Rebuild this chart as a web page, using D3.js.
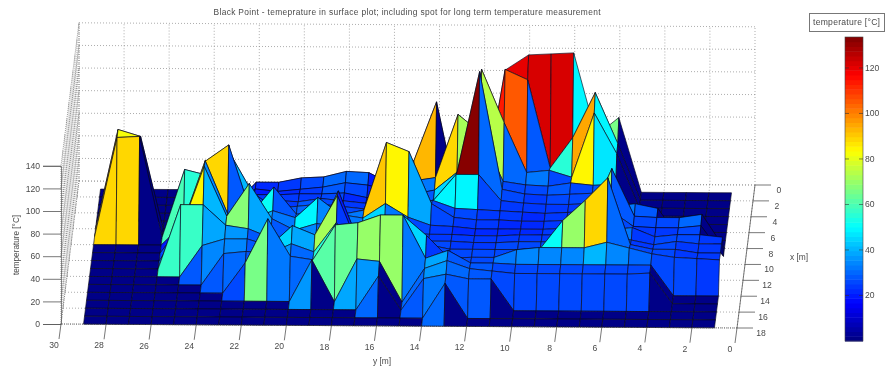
<!DOCTYPE html>
<html><head><meta charset="utf-8">
<style>html,body{margin:0;padding:0;background:#fff}svg{display:block;filter:blur(.35px)}text{font-family:"Liberation Sans",Arial,sans-serif;fill:#4a4a4a}</style>
<script src="https://cdn.jsdelivr.net/npm/d3@7/dist/d3.min.js"></script>
</head><body><svg id="c" width="885" height="370"></svg>
<script>
const xValues=d3.range(1,19);
const yValues=d3.range(1,30);
const xTicks=d3.range(0,19,2);
const yTicks=d3.range(0,31,2);
const zTicks=d3.range(0,141,20);
const barTicks=[20,40,60,80,100,120];
const titleText="Black Point - temeprature in surface plot; including spot for long term temperature measurement";
// temperature per y column (y=1..29); each list runs x=1..18
const tempByY=[
[0,0,0,0,0,0,0,0,0,24,25,24,25,0,0,0,0,0],
[0,0,0,0,0,0,0,30,27,26,25,24,26,0,0,0,0,0],
[0,0,0,0,0,0,0,27,25,26,27,27,27,0,0,0,0,0],
[0,0,0,0,0,0,28,27,25,24,24,27,30,27,27,0,0,0],
[0,0,0,0,0,0,32,28,26,32,28,31,35,27,26,0,0,0],
[66,50,48,28,26,26,30,70,40,30,32,90,40,27,26,0,0,0],
[50,95,84,27,27,25,25,25,26,27,28,70,35,27,26,0,0,0],
[123,55,27,29,26,24,24,24,24,25,26,52,35,27,26,0,0,0],
[122,28,33,26,25,24,23,23,23,25,26,27,35,27,26,0,0,0],
[121,106,31,27,26,25,24,23,23,25,26,26,33,27,26,0,0,0],
[108,115,75,30,30,27,25,24,23,24,25,26,26,28,28,28,0,0],
[0,0,122,73,134,50,26,24,23,24,25,26,26,28,30,28,0,0],
[0,0,0,89,45,50,27,26,25,25,26,26,25,39,37,32,31,0],
[0,0,93,33,29,27,34,38,26,25,26,30,45,32,30,28,0,0],
[0,0,41,30,25,22,30,84,33,26,27,28,62,70,0,0,0,0],
[0,0,20,20,20,20,30,92,45,25,28,30,40,70,36,30,0,0],
[0,0,30,26,22,24,26,32,32,22,20,25,28,63,38,0,0,0],
[0,0,31,28,26,26,28,28,35,30,70,73,56,61,0,0,0,0],
[0,0,26,24,25,28,30,30,50,34,28,38,30,30,37,0,0,0],
[0,0,25,22,25,25,28,28,32,28,28,46,37,33,0,0,0,0],
[0,0,21,20,24,26,26,52,38,38,28,28,28,66,0,0,0,0],
[0,0,21,22,24,25,40,28,30,69,36,34,30,27,0,0,0,0],
[0,0,0,0,0,0,75,89,35,40,39,34,28,0,0,0,0,0],
[0,0,0,0,0,0,55,75,82,84,57,28,0,0,0,0,0,0],
[0,0,0,0,0,0,60,19,26,30,57,0,0,0,0,0,0,0],
[0,0,0,0,0,0,0,0,0,0,0,0,0,0,0,0,0,0],
[0,0,0,0,0,82,89,0,0,0,0,0,0,0,0,0,0,0],
[0,0,0,0,0,88,88,0,0,0,0,0,0,0,0,0,0,0],
[0,0,0,0,0,0,0,0,0,0,0,0,0,0,0,0,0,0]
];
const cMin=0,cMax=134;
function jet(v){const c=t=>Math.max(0,Math.min(1,t));
 const r=c(Math.min(4*v-1.5,-4*v+4.5)),g=c(Math.min(4*v-0.5,-4*v+3.5)),b=c(Math.min(4*v+0.5,-4*v+2.5));
 return d3.rgb(r*255,g*255,b*255).formatHex();}
const colorOf=d3.scaleQuantize().domain([cMin,cMax]).range(d3.range(64).map(i=>jet((i+.5)/64)));

const yToX=d3.scaleLinear([0,30],[737,61]);
const yToY=d3.scaleLinear([0,30],[328,324]);
const xToX=d3.scaleLinear([18,0],[0,18]);
const xToY=d3.scaleLinear([18,0],[0,-143]);
const zToY=d3.scaleLinear([0,140],[0,-158.2]);
const P=(x,y,z)=>[yToX(y)+xToX(x),yToY(y)+xToY(x)+zToY(z)];
const svg=d3.select("#c");
const line=d3.line();
const grid=svg.append("g");
function seg(a,b,col="#8a8a8a",dash="1 2"){return grid.append("path").attr("d",line([a,b])).attr("stroke",col).attr("stroke-width",.7).attr("stroke-dasharray",dash).attr("fill","none");}
// back wall x=0, left wall y=30, floor z=0
yTicks.forEach(y=>{seg(P(0,y,0),P(0,y,140));seg(P(18,y,0),P(0,y,0));});
zTicks.forEach(z=>{seg(P(0,0,z),P(0,30,z));seg(P(0,30,z),P(18,30,z),"#666","1 1");});
xTicks.forEach(x=>{seg(P(x,0,0),P(x,30,0));seg(P(x,30,0),P(x,30,140),"#666","1 1");});
// surface, far to near
const surf=svg.append("g");
const faces=[];
xValues.slice(0,-1).forEach((x,i)=>{
 for(let j=yValues.length-2;j>=0;j--){
  const z=(a,b)=>tempByY[b][a];
  faces.push({pts:[P(x,yValues[j],z(i,j)),P(x,yValues[j+1],z(i,j+1)),P(x+1,yValues[j+1],z(i+1,j+1)),P(x+1,yValues[j],z(i+1,j))],c:colorOf(z(i,j))});
 }
});
surf.selectAll("path").data(faces).join("path")
 .attr("d",d=>line(d.pts)+"Z").attr("fill",d=>d.c).attr("stroke","#08081c").attr("stroke-width",.65).attr("stroke-linejoin","round");
// axes
const ax=svg.append("g").attr("font-size",8.6);
const zScale=d3.scaleLinear([0,140],[324,165.8]);
const zAxis=ax.append("g").attr("transform","translate(61,0)").call(d3.axisLeft(zScale).tickValues(zTicks).tickSize(18).tickPadding(3));
zAxis.select(".domain").attr("stroke","#555").attr("stroke-width",.7);
zAxis.selectAll("line").attr("stroke","#555").attr("stroke-width",.8);
zAxis.selectAll("text").attr("font-size",8.6).attr("fill","#4a4a4a").attr("font-family","Liberation Sans");
ax.append("path").attr("d",line([P(18,0,0),P(0,0,0)])).attr("stroke","#444").attr("stroke-width",.7).attr("fill","none");
ax.append("path").attr("d",line([P(18,0,0),P(18,30,0)])).attr("stroke","#444").attr("stroke-width",.7).attr("stroke-dasharray","1 1").attr("fill","none");
yTicks.forEach(y=>{
 const p=P(18,y,0);
 ax.append("path").attr("d",line([p,[p[0]-2,p[1]+15]])).attr("stroke","#555").attr("stroke-width",.8).attr("fill","none");
 ax.append("text").attr("x",p[0]-7).attr("y",p[1]+24).attr("text-anchor","middle").text(y);
});
xTicks.forEach(x=>{
 const p=P(x,0,0);
 ax.append("path").attr("d",line([p,[p[0]+16,p[1]]])).attr("stroke","#555").attr("stroke-width",.8).attr("fill","none");
 ax.append("text").attr("x",p[0]+24).attr("y",p[1]+8).attr("text-anchor","middle").text(x);
});
// labels
svg.append("text").attr("x",407).attr("y",15).attr("text-anchor","middle").attr("font-size",8.4).attr("textLength",387).text(titleText);
svg.append("text").attr("transform","translate(19,245) rotate(-90)").attr("text-anchor","middle").attr("font-size",8.2).text("temperature [°C]");
svg.append("text").attr("x",382).attr("y",364).attr("text-anchor","middle").attr("font-size",8.4).text("y [m]");
svg.append("text").attr("x",799).attr("y",260).attr("text-anchor","middle").attr("font-size",8.4).text("x [m]");
// colour bar
const barY=d3.scaleLinear([0,133.6],[341,37]);
const bar=svg.append("g");
bar.selectAll("rect").data(d3.range(64)).join("rect")
 .attr("x",845).attr("width",18)
 .attr("y",i=>barY((i+1)/64*133.6)).attr("height",i=>barY(i/64*133.6)-barY((i+1)/64*133.6)+.5)
 .attr("fill",i=>jet((i+.5)/64));
bar.append("rect").attr("x",845).attr("y",37).attr("width",18).attr("height",304).attr("fill","none").attr("stroke","#444").attr("stroke-width",.6);
barTicks.forEach(t=>{
 const yy=barY(t);
 bar.append("path").attr("d",line([[845,yy],[849,yy]])).attr("stroke","#333").attr("stroke-width",.6);
 bar.append("path").attr("d",line([[859,yy],[863,yy]])).attr("stroke","#333").attr("stroke-width",.6);
 bar.append("text").attr("x",865).attr("y",yy+3).attr("font-size",8.6).text(t);
});
svg.append("rect").attr("x",809.5).attr("y",13.5).attr("width",75).attr("height",18).attr("fill","#fff").attr("stroke","#777").attr("stroke-width",1);
svg.append("text").attr("x",813).attr("y",25).attr("font-size",8.6).attr("textLength",67).text("temperature [°C]");
</script></body></html>
